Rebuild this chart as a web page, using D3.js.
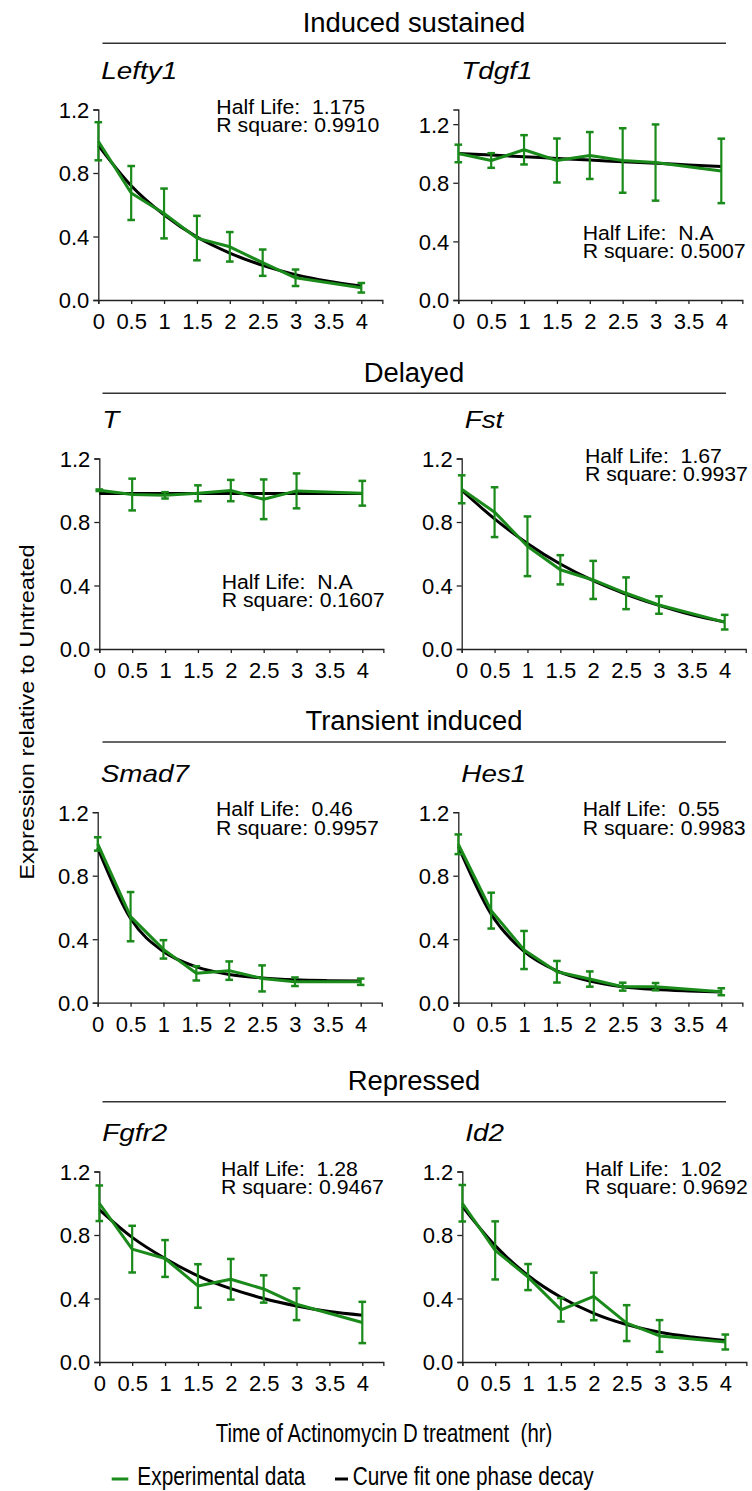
<!DOCTYPE html>
<html>
<head>
<meta charset="utf-8">
<script src="https://cdn.jsdelivr.net/npm/d3@7"></script>
<style>
  body { margin: 0; background: #fff; }
  svg { font-family: "Liberation Sans", Arial, sans-serif; }
  text { white-space: pre; }
</style>
</head>
<body>
<div id="chart"></div>
<script>
// Data

const sections = ["Induced sustained", "Delayed", "Transient induced", "Repressed"];
const genes = ["Lefty1", "Tdgf1", "T", "Fst", "Smad7", "Hes1", "Fgfr2", "Id2"];
const halfLives = ["1.175", "N.A", "N.A", "1.67", "0.46", "0.55", "1.28", "1.02"];
const rSquares = ["0.9910", "0.5007", "0.1607", "0.9937", "0.9957", "0.9983", "0.9467", "0.9692"];

const times = [0, 0.5, 1, 1.5, 2, 2.5, 3, 4];
const fitTimes = [0, 0.5, 1, 1.5, 2, 2.5, 3, 3.5, 4];
const xTicks = [0, 0.5, 1, 1.5, 2, 2.5, 3, 3.5, 4];
const yTicks = [0, 0.4, 0.8, 1.2];

const means = [
  [1.0, 0.674, 0.545, 0.39, 0.335, 0.235, 0.14, 0.077],
  [1.0, 0.952, 1.025, 0.952, 0.986, 0.952, 0.938, 0.881],
  [1.0, 0.973, 0.968, 0.981, 0.998, 0.943, 0.996, 0.981],
  [1.006, 0.862, 0.647, 0.499, 0.435, 0.351, 0.277, 0.169],
  [1.0, 0.542, 0.336, 0.185, 0.202, 0.153, 0.132, 0.132],
  [0.998, 0.58, 0.332, 0.195, 0.149, 0.101, 0.101, 0.069],
  [1.0, 0.711, 0.652, 0.479, 0.521, 0.46, 0.364, 0.249],
  [1.0, 0.703, 0.535, 0.329, 0.413, 0.245, 0.164, 0.126]
];

const errors = [
  [0.12, 0.17, 0.157, 0.14, 0.093, 0.083, 0.052, 0.03],
  [0.06, 0.05, 0.10, 0.15, 0.16, 0.22, 0.26, 0.22],
  [0.005, 0.10, 0.02, 0.05, 0.067, 0.125, 0.11, 0.078],
  [0.088, 0.157, 0.188, 0.092, 0.12, 0.10, 0.055, 0.046],
  [0.042, 0.155, 0.058, 0.045, 0.058, 0.082, 0.027, 0.02],
  [0.062, 0.113, 0.12, 0.068, 0.048, 0.025, 0.023, 0.022],
  [0.112, 0.147, 0.116, 0.137, 0.128, 0.086, 0.1, 0.13],
  [0.115, 0.183, 0.082, 0.074, 0.15, 0.113, 0.1, 0.047]
];

const fits = [
  [0.974, 0.72, 0.537, 0.397, 0.296, 0.218, 0.16, 0.118, 0.088],
  [1.0, 0.989, 0.978, 0.966, 0.955, 0.944, 0.933, 0.922, 0.911],
  [0.979, 0.979, 0.979, 0.979, 0.979, 0.979, 0.979, 0.979, 0.979],
  [1.0, 0.82, 0.665, 0.535, 0.43, 0.345, 0.275, 0.215, 0.17],
  [0.975, 0.53, 0.322, 0.226, 0.178, 0.156, 0.144, 0.139, 0.137],
  [0.984, 0.557, 0.323, 0.2, 0.136, 0.1, 0.083, 0.074, 0.068],
  [0.96, 0.785, 0.652, 0.543, 0.462, 0.4, 0.353, 0.318, 0.295],
  [0.98, 0.733, 0.545, 0.408, 0.307, 0.236, 0.187, 0.157, 0.136]
];

const yMax = [1.2, 1.3, 1.2, 1.2, 1.2, 1.2, 1.2, 1.2];

// Layout

const width = 752, height = 1491;
const green = "#1a8a1a";

const axisX = [98.3, 458.3, 99.3, 461.7, 97.7, 458.3, 99.3, 462.3];
const rowBase = [300, 649, 1002.7, 1362];
const ruleY = [43.3, 393.3, 742, 1101.7];
const annoDx = [118, 124.4, 122.4, 123.3, 118.3, 124.4, 121.7, 122.7];
const annoLow = [false, true, true, false, false, false, false, false];
const plotH = 190.5;
const xUnit = 263 / 4;

const svg = d3.select("#chart")
  .append("svg")
  .attr("width", width)
  .attr("height", height);

// text helper, sx squeezes/stretches glyphs horizontally like the source image
function label(g, x, y, str, size, sx, anchor, rot) {
  return g.append("text")
    .attr("transform", "translate(" + x + "," + y + ")" + (rot ? " rotate(" + rot + ")" : "") + " scale(" + sx + ",1)")
    .attr("font-size", size)
    .attr("text-anchor", anchor || "start")
    .attr("fill", "#000")
    .text(str);
}

// Section headers

sections.forEach((s, i) => {
  label(svg, 414, ruleY[i] - 11.6, s, 28, 0.98, "middle");
  svg.append("line")
    .attr("x1", 102.5).attr("x2", 726)
    .attr("y1", ruleY[i]).attr("y2", ruleY[i])
    .attr("stroke", "#333")
    .attr("stroke-width", 1.5);
});

// Panels

genes.forEach((gene, i) => {
  const row = Math.floor(i / 2);
  const x0 = axisX[i];
  const y0 = rowBase[row];

  const x = d3.scaleLinear()
    .domain([0, 4.32])
    .range([x0, x0 + 4.32 * xUnit]);

  const y = d3.scaleLinear()
    .domain([0, yMax[i]])
    .range([y0, y0 - plotH]);

  const g = svg.append("g");

  const xAxis = g.append("g")
    .attr("transform", "translate(0," + y0 + ")")
    .call(d3.axisBottom(x).tickValues(xTicks).tickSize(4).tickPadding(4).tickFormat(d3.format("")));

  const yAxis = g.append("g")
    .attr("transform", "translate(" + x0 + ",0)")
    .call(d3.axisLeft(y).tickValues(yTicks).tickSize(5).tickPadding(4).tickFormat(d3.format(".1f")));

  [xAxis, yAxis].forEach(a => {
    a.select(".domain").attr("stroke", "#222").attr("stroke-width", 1.3);
    a.selectAll(".tick line").attr("stroke", "#222").attr("stroke-width", 1.3);
    a.selectAll(".tick text")
      .attr("font-size", 22)
      .attr("font-family", "\"Liberation Sans\", Arial, sans-serif")
      .attr("fill", "#000");
  });
  xAxis.selectAll(".tick text").attr("dy", "0.95em");
  yAxis.selectAll(".tick text").attr("dy", "0.36em");

  // gene name
  label(g, x0 + 3, y0 - 221, gene, 24, 1.16).attr("font-style", "italic");

  // fit annotation
  const ay = annoLow[i] ? y0 - 60.5 : y0 - 186.5;
  label(g, x0 + annoDx[i], ay, "Half Life:  " + halfLives[i], 19.5, 1.09);
  label(g, x0 + annoDx[i], ay + 18.3, "R square: " + rSquares[i], 19.5, 1.09);

  // one phase decay fit
  const fitPts = fitTimes.map((t, k) => ({ t: t, v: fits[i][k] }));
  g.append("path")
    .datum(fitPts)
    .attr("d", d3.line()
      .curve(d3.curveMonotoneX)
      .x(d => x(d.t))
      .y(d => y(d.v)))
    .attr("fill", "none")
    .attr("stroke", "#000")
    .attr("stroke-width", 3);

  // experimental data
  const pts = times.map((t, k) => ({ t: t, v: means[i][k], e: errors[i][k] }));

  g.append("path")
    .datum(pts)
    .attr("d", d3.line()
      .x(d => x(d.t))
      .y(d => y(d.v)))
    .attr("fill", "none")
    .attr("stroke", green)
    .attr("stroke-width", 3)
    .attr("stroke-linejoin", "round");

  const bars = g.selectAll(".err")
    .data(pts)
    .enter()
    .append("g");

  bars.append("line")
    .attr("x1", d => x(d.t)).attr("x2", d => x(d.t))
    .attr("y1", d => y(d.v + d.e)).attr("y2", d => y(d.v - d.e))
    .attr("stroke", green)
    .attr("stroke-width", 2.2);

  [1, -1].forEach(sgn => {
    bars.append("line")
      .attr("x1", d => x(d.t) - 3.8).attr("x2", d => x(d.t) + 3.8)
      .attr("y1", d => y(d.v + sgn * d.e)).attr("y2", d => y(d.v + sgn * d.e))
      .attr("stroke", green)
      .attr("stroke-width", 2.5);
  });
});

// Shared axis titles

label(svg, 34, 712, "Expression relative to Untreated", 20.5, 1.15, "middle", -90);
label(svg, 384, 1441.7, "Time of Actinomycin D treatment  (hr)", 25, 0.815, "middle");

// Legend

svg.append("line")
  .attr("x1", 111.7).attr("x2", 128.3)
  .attr("y1", 1479).attr("y2", 1479)
  .attr("stroke", green).attr("stroke-width", 3);
label(svg, 137.3, 1485, "Experimental data", 25, 0.835);

svg.append("line")
  .attr("x1", 335).attr("x2", 348)
  .attr("y1", 1479).attr("y2", 1479)
  .attr("stroke", "#000").attr("stroke-width", 3);
label(svg, 352.7, 1485, "Curve fit one phase decay", 25, 0.83);
</script>
</body>
</html>
